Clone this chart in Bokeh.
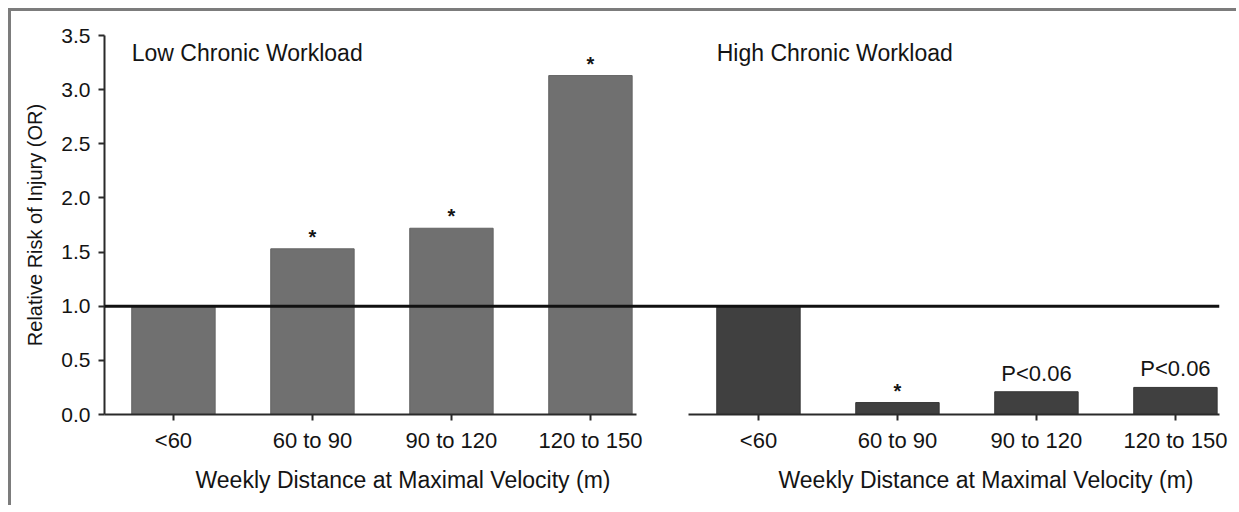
from bokeh.plotting import figure
from bokeh.models import FixedTicker, Span, Label, Title, ColumnDataSource, PrintfTickFormatter
from bokeh.layouts import row
from bokeh.core.properties import value
from bokeh.embed import file_html
from bokeh.resources import INLINE

# ---------------- data ----------------
categories = ["<60", "60 to 90", "90 to 120", "120 to 150"]
low_values = [1.0, 1.53, 1.72, 3.13]
high_values = [1.0, 0.11, 0.21, 0.25]
low_marks = ["", "*", "*", "*"]
high_marks = ["", "*", "P<0.06", "P<0.06"]
y_ticks = [0.0, 0.5, 1.0, 1.5, 2.0, 2.5, 3.0, 3.5]
panel_titles = ["Low Chronic Workload", "High Chronic Workload"]
x_title = "Weekly Distance at Maximal Velocity (m)"
y_title = "Relative Risk of Injury (OR)"
reference_or = 1.0

FONT = "Liberation Sans"
TXT = "#141414"
AX = "#2a2a2a"
H = 497


def make_panel(values, marks, title, fill, edge, width, x_range, min_left, min_right,
               show_y, bounds, xtitle_offset, transparent=False, draw_ref=False,
               styles=None):
    xs = list(range(len(categories)))
    p = figure(width=width, height=H, x_range=x_range, y_range=(0, 3.5),
               output_backend="svg", toolbar_location=None,
               min_border_left=min_left, min_border_right=min_right,
               min_border_top=24, min_border_bottom=94,
               y_axis_location="left" if show_y else None,
               styles=styles or {})
    p.title.visible = False
    p.grid.visible = False
    p.outline_line_color = None
    if transparent:
        p.background_fill_color = None
        p.border_fill_color = None
    else:
        p.background_fill_color = "white"
        p.border_fill_color = "white"

    src = ColumnDataSource(dict(x=xs, top=values, cat=categories))
    p.vbar(x="x", top="top", bottom=0, width=0.6, source=src,
           fill_color=fill, line_color=edge, line_width=1)

    stars = [i for i, m in enumerate(marks) if m == "*"]
    ptxt = [i for i, m in enumerate(marks) if m and m != "*"]
    if stars:
        p.text(x=[xs[i] for i in stars], y=[values[i] for i in stars],
               text=[marks[i] for i in stars], text_align="center",
               text_baseline="bottom", y_offset=-1,
               text_font=value(FONT), text_font_size="20px",
               text_font_style="bold", text_color=TXT)
    if ptxt:
        p.text(x=[xs[i] for i in ptxt], y=[values[i] for i in ptxt],
               text=[marks[i] for i in ptxt], text_align="center",
               text_baseline="bottom", y_offset=-6,
               text_font=value(FONT), text_font_size="22px", text_color=TXT)

    if draw_ref:
        p.add_layout(Span(location=reference_or, dimension="width",
                          line_color="#111111", line_width=3))

    p.add_layout(Label(x=-0.30, y=3.46, text=title, text_baseline="top",
                       text_align="left", text_font=FONT,
                       text_font_size="23px", text_color=TXT))

    xa = p.xaxis[0]
    xa.ticker = FixedTicker(ticks=xs)
    xa.major_label_overrides = {i: c for i, c in enumerate(categories)}
    xa.bounds = bounds
    xa.axis_line_color = AX
    xa.axis_line_width = 2
    xa.major_tick_line_color = AX
    xa.major_tick_line_width = 2
    xa.major_tick_in = 0
    xa.major_tick_out = 6
    xa.minor_tick_line_color = None
    xa.major_label_standoff = 7
    xa.major_label_text_font = FONT
    xa.major_label_text_font_size = "22px"
    xa.major_label_text_color = TXT

    p.add_layout(Title(text=x_title, align="left", offset=xtitle_offset,
                       text_font=FONT, text_font_size="23px",
                       text_font_style="normal", text_color=TXT,
                       standoff=18), "below")

    if show_y:
        ya = p.yaxis[0]
        ya.ticker = FixedTicker(ticks=y_ticks)
        ya.formatter = PrintfTickFormatter(format="%.1f")
        ya.axis_line_color = AX
        ya.axis_line_width = 2
        ya.major_tick_line_color = AX
        ya.major_tick_line_width = 2
        ya.major_tick_in = 0
        ya.major_tick_out = 6
        ya.minor_tick_line_color = None
        ya.major_label_standoff = 8
        ya.major_label_text_font = FONT
        ya.major_label_text_font_size = "21px"
        ya.major_label_text_color = TXT
        ya.axis_label = y_title
        ya.axis_label_text_font = FONT
        ya.axis_label_text_font_size = "20px"
        ya.axis_label_text_font_style = "normal"
        ya.axis_label_text_color = TXT
        ya.axis_label_standoff = 12
    return p


left = make_panel(low_values, low_marks, panel_titles[0], "#707070", "#646464",
                  649, (-0.496, 3.504), 93, 0, True, (-0.5, 3.33), 91)
# right panel is a transparent overlay spanning the full width, so the OR = 1
# reference line runs unbroken from the y axis to the right end
right = make_panel(high_values, high_marks, panel_titles[1], "#404040", "#343434",
                   1228, (-4.705, 3.317), 93, 20, False, (-0.504, 3.32), 674,
                   transparent=True, draw_ref=True, styles={"margin-left": "-649px"})

# frame lines (top and left) drawn as a shadow so they do not change the layout size
layout = row(left, right, styles={"margin-left": "11px", "margin-top": "11px",
                                  "box-shadow": "-3px -3px 0 0 #7c7c7c"})

with open("out.html", "w") as f:
    f.write(file_html(layout, INLINE))
